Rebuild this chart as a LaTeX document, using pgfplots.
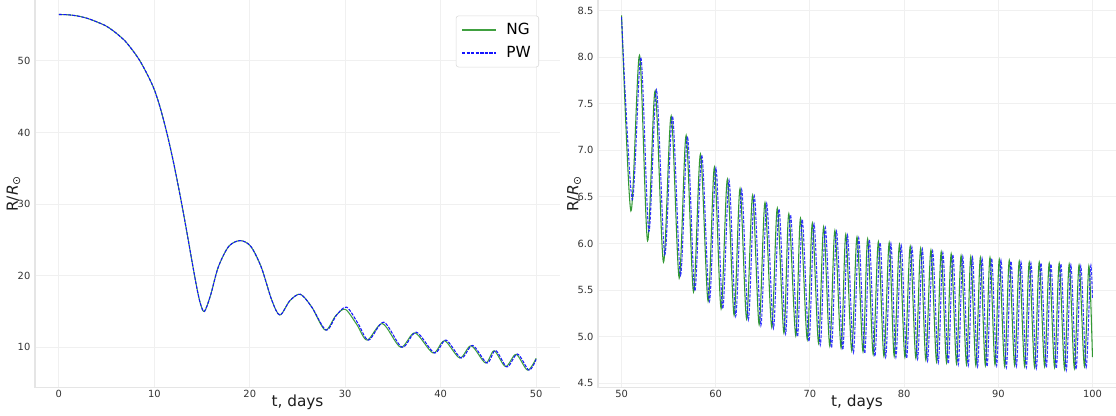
\documentclass[border=0pt]{standalone}
\usepackage{fontspec}
\setmainfont{DejaVu Sans}
\usepackage{pgfplots}
\usepackage{pgfplotstable}
\pgfplotsset{compat=1.18}
\definecolor{ngc}{RGB}{0,128,0}
\definecolor{nglight}{RGB}{64,160,64}
\definecolor{pwc}{RGB}{20,20,255}
\definecolor{tickc}{RGB}{51,51,51}
\definecolor{labc}{RGB}{30,30,30}

\pgfplotstableread{
t R
0 56.5
1 56.45
2 56.28
3 55.95
4 55.45
5 54.85
6 53.9
7 52.7
8 51.0
8.5 50.0
9 48.8
9.5 47.5
10 46.0
10.5 44.0
11 41.6
11.5 38.9
12 35.9
12.5 32.6
13 29.1
13.5 25.4
14 21.6
14.5 18.0
14.85 16.0
15.25 15.0
15.9 17.3
16.7 21.2
17.8 24.1
19.0 24.9
20.1 24.1
21.2 21.2
22.3 16.6
23.15 14.5
24.2 16.5
25.3 17.4
26.5 15.6
27.9 12.4
29.0 14.4
30.0 15.3
31.2 13.2
32.3 11.0
33.9 13.3
35.8 10.0
37.3 12.0
39.2 9.2
40.4 10.9
42.0 8.5
43.2 10.2
44.7 7.8
45.6 9.5
46.8 7.3
47.9 9.0
49.1 6.8
50.0 8.45
}\ngleft

\pgfplotstableread{
t R
0 56.5
1 56.45
2 56.28
3 55.95
4 55.45
5 54.85
6 53.9
7 52.7
8 51.0
8.5 50.0
9 48.8
9.5 47.5
10 46.0
10.5 44.0
11 41.6
11.5 38.9
12 35.9
12.5 32.6
13 29.1
13.5 25.4
14 21.6
14.5 18.0
14.85 16.0
15.25 15.0
15.9 17.3
16.7 21.2
17.8 24.1
19.0 24.9
20.1 24.1
21.2 21.2
22.3 16.6
23.15 14.5
24.2 16.5
25.3 17.4
26.5 15.6
28.0 12.4
29.1 14.5
30.15 15.6
31.35 13.3
32.45 11.0
34.05 13.5
35.95 10.0
37.45 12.1
39.35 9.2
40.55 11.0
42.15 8.5
43.35 10.25
44.85 7.8
45.75 9.55
46.95 7.25
48.05 9.05
49.25 6.8
50.0 8.3
}\pwleft

\pgfplotstableread{
t R
50.00 8.45
50.99 6.35
51.91 8.02
52.76 6.03
53.57 7.64
54.45 5.80
55.27 7.37
56.12 5.63
56.86 7.16
57.64 5.48
58.38 6.96
59.19 5.38
59.86 6.82
60.57 5.30
61.24 6.69
61.95 5.23
62.58 6.59
63.28 5.19
63.92 6.52
64.61 5.13
65.23 6.44
65.95 5.10
66.54 6.38
67.24 5.04
67.76 6.32
68.50 5.01
69.00 6.27
69.72 4.97
70.26 6.22
70.92 4.93
71.46 6.18
72.11 4.90
72.65 6.14
73.31 4.88
73.81 6.10
74.44 4.85
75.00 6.07
75.64 4.84
76.13 6.05
76.72 4.81
77.27 6.02
77.86 4.79
78.42 6.01
78.95 4.79
79.51 5.99
80.09 4.78
80.65 5.97
81.25 4.77
81.76 5.95
82.31 4.75
82.85 5.93
83.45 4.73
83.94 5.91
84.51 4.72
85.00 5.89
85.57 4.71
86.05 5.87
86.63 4.70
87.08 5.86
87.62 4.69
88.10 5.85
88.63 4.69
89.12 5.85
89.65 4.70
90.11 5.83
90.68 4.68
91.17 5.82
91.74 4.69
92.23 5.81
92.80 4.68
93.29 5.80
93.86 4.67
94.35 5.80
94.92 4.68
95.41 5.79
95.98 4.67
96.47 5.79
97.04 4.65
97.53 5.78
98.08 4.66
98.58 5.77
99.15 4.68
99.62 5.76
100.00 4.78
}\ngright

\pgfplotstableread{
t R
50.00 8.43
51.13 6.47
52.05 8.00
52.90 6.13
53.71 7.65
54.59 5.88
55.41 7.37
56.26 5.66
57.00 7.15
57.78 5.49
58.52 6.95
59.33 5.38
60.02 6.81
60.74 5.30
61.41 6.68
62.12 5.22
62.75 6.58
63.46 5.18
64.10 6.51
64.79 5.12
65.41 6.43
66.13 5.09
66.72 6.37
67.42 5.03
67.94 6.31
68.68 5.00
69.18 6.26
69.90 4.95
70.44 6.21
71.10 4.91
71.64 6.17
72.29 4.88
72.83 6.13
73.49 4.86
73.99 6.09
74.62 4.83
75.18 6.06
75.82 4.82
76.31 6.04
76.90 4.79
77.45 6.01
78.04 4.78
78.60 6.00
79.13 4.78
79.69 5.98
80.27 4.77
80.83 5.96
81.43 4.76
81.94 5.94
82.49 4.74
83.03 5.92
83.63 4.72
84.12 5.90
84.69 4.71
85.18 5.88
85.75 4.70
86.23 5.86
86.81 4.69
87.26 5.85
87.80 4.68
88.28 5.84
88.81 4.68
89.30 5.84
89.83 4.69
90.29 5.82
90.86 4.67
91.35 5.81
91.92 4.68
92.41 5.80
92.98 4.67
93.47 5.79
94.04 4.66
94.53 5.79
95.10 4.67
95.59 5.78
96.16 4.66
96.65 5.78
97.22 4.64
97.71 5.77
98.26 4.65
98.76 5.76
99.33 4.67
99.80 5.75
100.00 5.41
}\pwright

\pgfplotsset{
  myax/.style={
    scale only axis, height=291pt,
    axis lines*=left,
    axis line style={-, draw=black!10, line width=1pt},
    grid=major, major grid style={draw=black!6, line width=0.75pt},
    major tick length=0pt,
    tick label style={font=\fontsize{7.4}{9}\selectfont, text=tickc},
    xticklabel style={yshift=1.5pt},
    /pgf/number format/assume math mode=true,
    label style={font=\fontsize{11.5}{13}\selectfont, text=labc},
    xlabel={t, days},
    xlabel style={at={(axis description cs:0.5,0)}, anchor=base, yshift=-14.5pt},
    ylabel={R/\textit{R}\textsubscript{⊙}},
  }
}

\begin{document}
\begin{tikzpicture}
\path[use as bounding box] (0,0) rectangle (837pt,312pt);
\begin{axis}[myax,
  at={(26.25pt,21.25pt)}, anchor=south west, width=393.75pt,
  xmin=-2.5, xmax=52.5, ymin=4.35, ymax=58.57,
  xtick={0,10,...,50}, ytick={10,20,...,50},
  ylabel style={at={(axis description cs:-0.041,0.5)}, anchor=center},
  legend style={at={(0.96,0.959)}, anchor=north east, draw=black!15,
    rounded corners=2pt, fill=white, font=\fontsize{11.5}{13}\selectfont,
    inner xsep=4pt, inner ysep=3.5pt, row sep=3.5pt,
    /tikz/every odd column/.append style={column sep=5pt}},
  legend cell align=left,
  legend image post style={xscale=1.5, line width=1.1pt},
]
\addplot[draw=nglight, line width=0.8pt, smooth] table[x=t,y=R] {\ngleft};
\addlegendentry{NG}
\addplot[draw=pwc, line width=0.8pt, dash pattern=on 2.4pt off 1pt, smooth] table[x=t,y=R] {\pwleft};
\addlegendentry{PW}
\end{axis}
\begin{axis}[myax,
  at={(448.5pt,21.25pt)}, anchor=south west, width=388.5pt,
  xmin=47.5, xmax=102.5, ymin=4.453, ymax=8.618,
  xtick={50,60,...,100}, ytick={4.5,5,...,8.5},
  yticklabel style={/pgf/number format/.cd, fixed, fixed zerofill, precision=1},
  ylabel style={at={(axis description cs:-0.046,0.5)}, anchor=center},
]
\addplot[draw=ngc, draw opacity=0.8, line width=0.8pt, smooth] table[x=t,y=R] {\ngright};
\addplot[draw=pwc, draw opacity=0.85, line width=0.8pt, dash pattern=on 2.4pt off 1pt, smooth] table[x=t,y=R] {\pwright};
\end{axis}
\end{tikzpicture}
\end{document}
